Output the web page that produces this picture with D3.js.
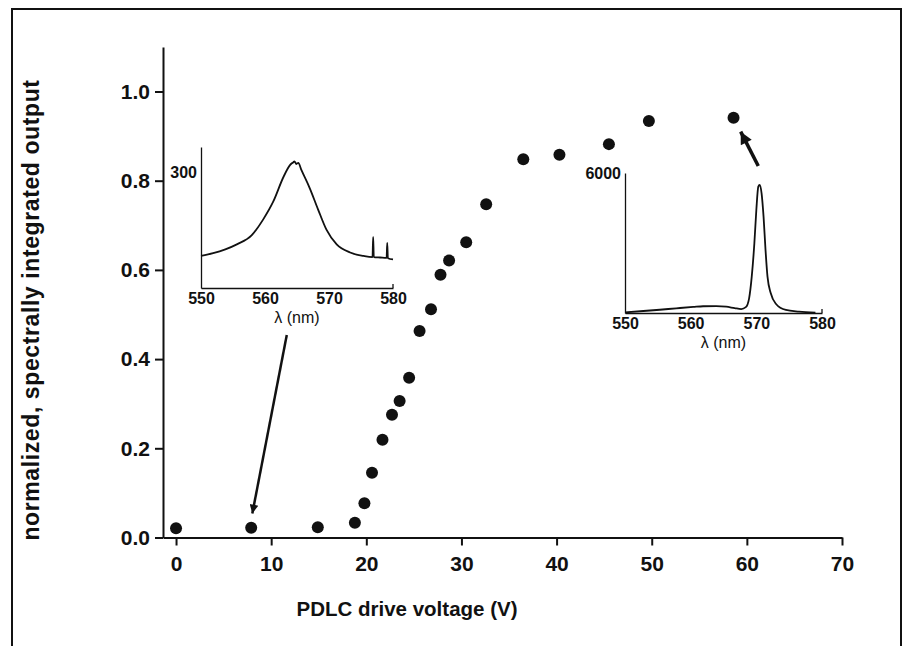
<!DOCTYPE html>
<html>
<head>
<meta charset="utf-8">
<script src="https://cdn.jsdelivr.net/npm/d3@7"></script>
<style>
  body { margin: 0; background: #fff; }
  svg, svg text { font-family: "Liberation Sans", Arial, Helvetica, sans-serif; }
  svg { display: block; }
</style>
</head>
<body>
<svg width="906" height="646"></svg>
<script>
// main series: PDLC drive voltage (V) vs normalized output
var voltage = [0, 7.9, 14.9, 18.8, 19.8, 20.6, 21.7, 22.7, 23.5, 24.5, 25.6, 26.8, 27.8, 28.7, 30.5, 32.6, 36.5, 40.3, 45.5, 49.7, 58.6];
var output = [0.021, 0.022, 0.023, 0.033, 0.077, 0.145, 0.219, 0.275, 0.306, 0.358, 0.463, 0.512, 0.589, 0.621, 0.662, 0.747, 0.848, 0.858, 0.882, 0.934, 0.941];
var xTicks = [0, 10, 20, 30, 40, 50, 60, 70];
var yTicks = [0, 0.2, 0.4, 0.6, 0.8, 1.0];

// inset at low voltage (broad spectrum)
var lambdaLow = [550, 551.9, 553.8, 555.6, 557.9, 559.7, 561.3, 562.9, 563.9, 564.2, 564.4, 564.6, 564.9, 565.2, 565.7, 567, 568.3, 569.6, 571.2, 573.3, 575.4, 576.8, 576.9, 577.0, 578, 579.0, 579.1, 579.2, 580];
var intensityLow = [83, 90, 100, 113, 136, 177, 224, 288, 318, 323, 325, 328, 321, 324, 305, 258, 203, 151, 113, 92, 83, 80, 132, 80, 79, 78, 117, 77, 74];

// inset at high voltage (lasing peak)
var lambdaHigh = [550, 552.8, 555.3, 557.8, 560.4, 561.9, 563.9, 565.4, 566.7, 567.7, 568.4, 568.9, 569.3, 569.7, 570.0, 570.3, 570.5, 570.8, 571.1, 571.4, 571.7, 572.2, 573, 574.5, 576.5, 579];
var intensityHigh = [30, 86, 140, 200, 260, 290, 295, 270, 210, 170, 250, 630, 1557, 2987, 4414, 5413, 5486, 5130, 4129, 2700, 1557, 843, 386, 129, 57, 10];

var svg = d3.select('svg');
var ink = '#111';
var font = '"Liberation Sans", Arial, Helvetica, sans-serif';

// outer frame
svg.append('path')
    .attr('d', 'M12,646V9H901V646')
    .attr('fill', 'none').attr('stroke', ink).attr('stroke-width', 2);

/* ----------- MAIN AXES ----------- */

var x = d3.scaleLinear().domain([-1.37, 70]).range([163, 842]);
var y = d3.scaleLinear().domain([0, 1.1]).range([537.5, 46.9]);

var gx = svg.append('g').attr('transform', 'translate(0,' + y(0) + ')');
gx.call(d3.axisBottom(x).tickValues(d3.range(5, 70, 10)).tickSize(5).tickSizeOuter(0).tickFormat(''));
gx.call(d3.axisBottom(x).tickValues(xTicks).tickSize(8).tickSizeOuter(0).tickPadding(11).tickFormat(d3.format('d')));

var gy = svg.append('g').attr('transform', 'translate(' + x(-1.37) + ',0)');
gy.call(d3.axisLeft(y).tickValues([0.1, 0.3, 0.5, 0.7, 0.9, 1.1]).tickSize(7).tickSizeOuter(0).tickFormat(''));
gy.call(d3.axisLeft(y).tickValues(yTicks).tickSize(8).tickSizeOuter(0).tickPadding(5).tickFormat(d3.format('.1f')));

svg.selectAll('g').attr('font-family', font);
svg.selectAll('.domain').attr('stroke', ink).attr('stroke-width', 2);
svg.selectAll('.tick line').attr('stroke', ink).attr('stroke-width', 2);
svg.selectAll('.tick text').attr('font-size', 21).attr('font-weight', 'bold').attr('fill', ink);

svg.append('text')
    .attr('x', 407).attr('y', 616)
    .attr('text-anchor', 'middle')
    .attr('font-size', 20.5).attr('font-weight', 'bold').attr('fill', ink)
    .text('PDLC drive voltage (V)');

svg.append('text')
    .attr('transform', 'translate(39,310) rotate(-90)')
    .attr('text-anchor', 'middle')
    .attr('font-size', 23).attr('font-weight', 'bold').attr('fill', ink)
    .attr('letter-spacing', 0.6)
    .text('normalized, spectrally integrated output');

/* ----------- POINTS ----------- */

svg.append('g').selectAll('circle')
    .data(voltage)
    .enter()
    .append('circle')
    .attr('cx', function (d) { return x(d); })
    .attr('cy', function (d, i) { return y(output[i]); })
    .attr('r', 6)
    .attr('fill', ink);

/* ----------- INSETS ----------- */

function inset(lam, val, xr, yr, ymax, ytick) {
    var ix = d3.scaleLinear().domain([550, 580]).range(xr);
    var iy = d3.scaleLinear().domain([0, ymax]).range(yr);
    var g = svg.append('g').attr('font-family', font);

    g.append('g').attr('transform', 'translate(0,' + yr[0] + ')')
        .call(d3.axisBottom(ix).tickValues([550, 560, 570, 580]).tickSize(0).tickSizeOuter(0).tickPadding(5).tickFormat(d3.format('d')));
    g.append('g').attr('transform', 'translate(' + xr[0] + ',0)')
        .call(d3.axisLeft(iy).tickValues([ytick]).tickSize(0).tickSizeOuter(0).tickPadding(4).tickFormat(d3.format('d')));
    g.selectAll('g').attr('font-family', font);
    g.selectAll('.domain').attr('stroke', ink).attr('stroke-width', 1.3);
    g.selectAll('.tick text').attr('font-size', 16).attr('font-weight', 'bold').attr('fill', ink);

    // small end tick at 580
    g.append('line')
        .attr('x1', ix(580)).attr('x2', ix(580))
        .attr('y1', yr[0]).attr('y2', yr[0] - 4)
        .attr('stroke', ink).attr('stroke-width', 1.3);

    g.append('text')
        .attr('x', (xr[0] + xr[1]) / 2).attr('y', yr[0] + 35)
        .attr('text-anchor', 'middle')
        .attr('font-size', 16).attr('fill', ink)
        .text('\u03bb (nm)');

    var line = d3.line()
        .x(function (d) { return ix(d); })
        .y(function (d, i) { return iy(val[i]); })
        .curve(d3.curveMonotoneX);
    g.append('path')
        .attr('d', line(lam))
        .attr('fill', 'none').attr('stroke', ink).attr('stroke-width', 1.8);
}

inset(lambdaLow, intensityLow, [201, 393], [288, 147], 365, 300);
inset(lambdaHigh, intensityHigh, [625, 822], [313, 173], 6000, 6000);

/* ----------- ARROWS ----------- */

svg.append('defs').append('marker')
    .attr('id', 'head')
    .attr('viewBox', '0 0 10 10')
    .attr('refX', 10).attr('refY', 5)
    .attr('markerWidth', 5).attr('markerHeight', 3.5)
    .attr('markerUnits', 'strokeWidth')
    .attr('orient', 'auto')
    .append('path').attr('d', 'M0,0L10,5L0,10Z').attr('fill', ink);

var arrows = [
    { from: [11.64, 0.454], to: [8.02, 0.054], w: 2.5 },
    { from: [61.2, 0.833], to: [59.35, 0.91], w: 3.5 }
];

svg.append('g').selectAll('line')
    .data(arrows)
    .enter()
    .append('line')
    .attr('x1', function (d) { return x(d.from[0]); })
    .attr('y1', function (d) { return y(d.from[1]); })
    .attr('x2', function (d) { return x(d.to[0]); })
    .attr('y2', function (d) { return y(d.to[1]); })
    .attr('stroke', ink)
    .attr('stroke-width', function (d) { return d.w; })
    .attr('marker-end', 'url(#head)');
</script>
</body>
</html>
